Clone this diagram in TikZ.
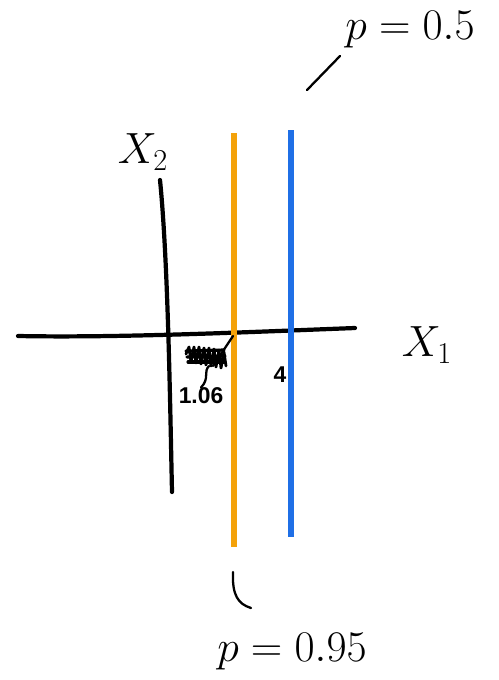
\documentclass[tikz,border=0pt]{standalone}
\usepackage{fontspec}
\setmainfont{Liberation Sans}
\begin{document}
\begin{tikzpicture}[x=0.02cm,y=-0.02cm,
  ink/.style={line width=2.4pt,line cap=round,line join=round},
  thin ink/.style={line width=1.3pt,line cap=round,line join=round},
  lbl/.style={inner sep=0pt,font=\fontsize{26}{30}\selectfont},
  small lbl/.style={inner sep=0pt,font=\fontsize{13}{15}\selectfont\bfseries}]
\useasboundingbox (0,0) rectangle (498,680);
\definecolor{orangeline}{HTML}{F4A20A}
\definecolor{blueline}{HTML}{1F6FE6}
% axes
\draw[ink] (18,336) .. controls (120,338) and (250,332) .. (355,328);
\draw[ink] (160,180) .. controls (168,260) and (170,400) .. (172,492);
% vertical lines
\draw[line width=3pt,orangeline] (234,133) -- (234,547);
\draw[line width=3pt,blueline] (291,130) -- (291,537);
% axis labels
\node[lbl] (x2) at (143,152) {$X_2$};
\node[lbl] (x1) at (427,345) {$X_1$};
% hatched region (scribble)
\draw[line width=1.6pt,line cap=round,line join=round]
  (186,354) -- (189,347) -- (191,362) -- (194,347) -- (196,363) -- (199,347) -- (201,364)
  -- (204,348) -- (206,365) -- (209,348) -- (211,366) -- (214,349) -- (216,367)
  -- (219,350) -- (221,368) -- (224,352) -- (226,366);
\draw[line width=1.8pt,line cap=round] (186,351) -- (224,350);
\draw[line width=1.8pt,line cap=round] (187,357) -- (225,356);
\draw[line width=1.8pt,line cap=round] (188,362) -- (224,362);
\draw[thin ink] (233,336) -- (213,366);
% value labels
\node[small lbl] (v106) at (201,396) {1.06};
\node[small lbl] (v4) at (280,375) {4};
\draw[thin ink] (209,366) .. controls (203,372) and (210,378) .. (v106.north);
% probability labels
\node[lbl] (p05) at (410,30) {$p = 0.5$};
\coordinate (c05) at (307,90);
\draw[thin ink] (c05) -- (340,56);
\node[lbl] (p095) at (292,652) {$p = 0.95$};
\draw[thin ink] (233,572) .. controls (232,595) and (238,604) .. (251,608);
\end{tikzpicture}
\end{document}
